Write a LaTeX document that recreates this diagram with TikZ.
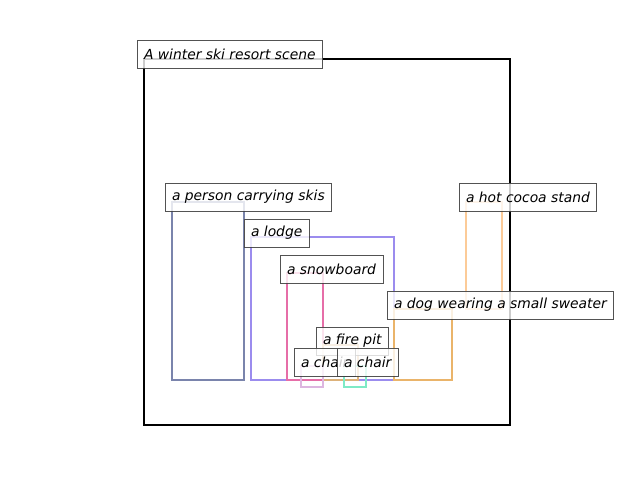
\documentclass[tikz,border=0pt]{standalone}
\usepackage{fontspec}
\setmainfont{DejaVu Sans}
\begin{document}
\begin{tikzpicture}[x=0.75pt,y=-0.75pt,
  bbox/.style={line width=1.8pt,line join=miter},
  lbl/.style={draw=black!75,line width=0.75pt,fill=white,fill opacity=0.8,text opacity=1,draw opacity=0.9,
    inner xsep=5.25pt,inner ysep=0pt,minimum height=21pt,outer sep=0pt,anchor=west,
    font=\fontsize{10.4}{12}\selectfont\itshape}]
\useasboundingbox (0,0) rectangle (640,480);
\definecolor{cperson}{HTML}{7A84AC}
\definecolor{clodge}{HTML}{9B8CEE}
\definecolor{csnow}{HTML}{E66EA8}
\definecolor{ccocoa}{HTML}{FCCB98}
\definecolor{cdog}{HTML}{EAB46A}
\definecolor{cfire}{HTML}{DDB27A}
\definecolor{cchairA}{HTML}{DDB6E0}
\definecolor{cchairB}{HTML}{7EEAC6}
% boxes
\draw[bbox,black] (144,59) rectangle (510,425);
\draw[bbox,cperson] (172,202) rectangle (244,380);
\draw[bbox,clodge] (251,237) rectangle (394,380);
\draw[bbox,csnow] (287,273) rectangle (323,380);
\draw[bbox,ccocoa] (466,202) rectangle (502,309);
\draw[bbox,cdog] (394,309) rectangle (452,380);
\draw[bbox,cfire] (323,345) rectangle (358,380);
\draw[bbox,cchairA] (301,366) rectangle (323,387);
\draw[bbox,cchairB] (344,366) rectangle (366,387);
% labels
\node[lbl] (tscene) at (137,54) {A winter ski resort scene};
\node[lbl] (tperson) at (165,197) {a person carrying skis};
\node[lbl] (tlodge) at (244,233) {a lodge};
\node[lbl] (tsnow) at (280,269) {a snowboard};
\node[lbl] (tcocoa) at (459,197) {a hot cocoa stand};
\node[lbl] (tdog) at (387,305) {a dog wearing a small sweater};
\node[lbl] (tfire) at (316,341) {a fire pit};
\node[lbl] (tchairA) at (294,362) {a chair};
\node[lbl] (tchairB) at (337,362) {a chair};
\end{tikzpicture}
\end{document}
